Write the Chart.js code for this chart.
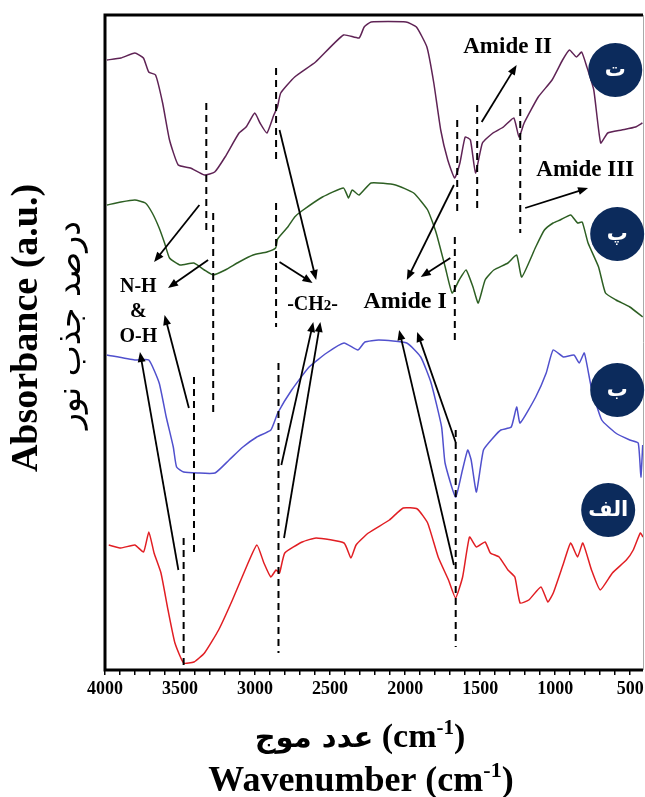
<!DOCTYPE html>
<html>
<head>
<meta charset="utf-8">
<script src="https://cdn.jsdelivr.net/npm/chart.js"></script>
<style>
  body { margin: 0; background: #fff; }
</style>
</head>
<body>
<canvas id="ftir" width="645" height="797"></canvas>
<script>
// FTIR spectra (wavenumber cm-1, absorbance a.u.)
const redWn = [3975, 3894, 3801, 3743, 3708, 3673, 3627, 3580, 3534, 3476, 3407, 3337, 3243, 3151, 3058, 2988, 2941, 2895, 2860, 2837, 2802, 2686, 2593, 2407, 2361, 2327, 2245, 2105, 2013, 1919, 1850, 1780, 1711, 1664, 1617, 1571, 1525, 1467, 1432, 1374, 1315, 1269, 1234, 1176, 1095, 1049, 1013, 944, 897, 851, 816, 758, 700, 619, 526, 480, 433, 415];
const redAbs = [12.5, 12.2, 12.5, 11.8, 13.8, 11.7, 9.7, 6, 2.7, 0.7, 0.8, 1.7, 4, 7, 10.3, 12.5, 10.7, 9.3, 10, 9.7, 11.7, 12.8, 13.2, 12.7, 11.2, 12.5, 13.7, 15, 16.2, 16.1, 14.7, 11.3, 9, 7.2, 9.3, 13.3, 12.3, 12.8, 11.7, 11.3, 10, 9.3, 6.7, 7, 8.3, 6.8, 7.7, 10.7, 12.7, 11.3, 12.7, 10, 8, 9.7, 11, 12, 13.7, 13.3];

const blueWn = [3987, 3801, 3708, 3639, 3592, 3545, 3523, 3476, 3383, 3267, 3173, 3081, 2988, 2895, 2849, 2756, 2640, 2523, 2407, 2315, 2268, 2175, 1989, 1896, 1827, 1757, 1734, 1664, 1618, 1583, 1560, 1525, 1478, 1409, 1362, 1293, 1257, 1234, 1130, 1060, 1014, 945, 875, 840, 806, 760, 690, 597, 503, 447, 429, 417];
const blueAbs = [31.5, 31, 31, 28.7, 25.3, 22.3, 20.3, 19.8, 19.7, 19.7, 21, 22.3, 23.3, 24, 25.7, 28, 30.3, 31.7, 32.7, 32, 32.8, 33, 32.7, 31.3, 28.7, 24.3, 20.7, 17.3, 20, 22, 21, 17.8, 22, 23.3, 24, 24.3, 26.3, 24.7, 27.3, 29.7, 32, 31.3, 31.5, 30.7, 31.7, 28.3, 25, 23.7, 23, 22.7, 19.3, 22.5];

const greenWn = [3987, 3894, 3801, 3731, 3685, 3639, 3603, 3570, 3500, 3408, 3338, 3280, 3199, 3107, 3013, 2921, 2863, 2850, 2782, 2736, 2689, 2551, 2411, 2377, 2353, 2307, 2227, 2064, 1943, 1850, 1793, 1733, 1687, 1640, 1594, 1548, 1513, 1467, 1409, 1315, 1257, 1223, 1130, 1072, 1014, 967, 897, 851, 820, 781, 711, 665, 595, 503, 417];
const greenAbs = [46.5, 46.8, 47, 46.7, 45.7, 44.2, 42.7, 41.2, 40.5, 40.7, 40, 39.5, 40, 40.8, 41.5, 41.8, 42.2, 43.1, 44.3, 45.3, 45.9, 47.3, 48.2, 47.2, 48, 47.5, 48.7, 48.5, 47.7, 46, 43.7, 40.3, 37.7, 39, 40, 38.3, 36.7, 39, 40, 40.7, 41.5, 39.3, 42.3, 44, 44.7, 45, 45.5, 44.7, 44.8, 42.7, 40.3, 37.7, 37, 36.3, 35.3];

const purpleWn = [3987, 3894, 3801, 3744, 3709, 3663, 3616, 3570, 3512, 3431, 3338, 3269, 3200, 3107, 3060, 3002, 2967, 2921, 2875, 2851, 2829, 2736, 2597, 2411, 2307, 2273, 2227, 1994, 1925, 1855, 1809, 1763, 1716, 1670, 1635, 1600, 1565, 1531, 1485, 1415, 1345, 1276, 1241, 1207, 1113, 1021, 951, 905, 859, 824, 789, 743, 697, 650, 557, 465, 419];
const purpleAbs = [61, 61.2, 61.7, 61.2, 59.8, 59.5, 56.7, 53, 50.5, 50.2, 49.5, 49.8, 51.3, 53.7, 54.3, 55.7, 54.7, 53.7, 55.5, 56.3, 57.7, 59.3, 60.8, 63.5, 63.2, 64.3, 64.8, 64.8, 64.3, 62.3, 58.7, 54, 51, 49.2, 50.7, 53.3, 53, 49.7, 52.7, 53.7, 54.3, 55.2, 53.3, 54.7, 57.3, 59, 61, 62, 61.3, 61.8, 60.3, 58, 52.7, 53.7, 54, 54.3, 54.7];

const sampleNames = ['الف', 'ب', 'پ', 'ت'];
const majorTicks = [4000, 3500, 3000, 2500, 2000, 1500, 1000, 500];

// annotation positions in data units (wavenumber, absorbance)
const dashLines = [
    [3325, 56.7, 43.7], [3279, 45.7, 25.7], [2860, 60.2, 50.7], [2860, 46.7, 34.3],
    [3407, 29.3, 11.7], [3476, 13.2, 0], [2844, 30.7, 1.7], [1653, 55, 45.7],
    [1520, 56.5, 45.8], [1233, 57.3, 43.7], [1669, 43.3, 33], [1663, 24, 2.3]
];
const arrows = [
    [3371, 46.5, 3673, 40.8], [3313, 41, 3580, 38.2], [3441, 26.2, 3603, 35.5], [3511, 10, 3767, 31.8],
    [2837, 54, 2593, 39], [2837, 40.8, 2617, 38.7], [2825, 20.5, 2612, 34.8], [2807, 13.2, 2565, 34.8],
    [1675, 48.5, 1989, 39], [1699, 41.2, 1896, 39.3], [1675, 10.5, 2040, 34], [1664, 22.8, 1920, 33.8],
    [1490, 54.8, 1257, 60.5], [1200, 46.2, 781, 48.2]
];
const labels = [
    { text: 'Amide II', x: 1317, y: 62.3, size: 23 },
    { text: 'Amide III', x: 800, y: 50, size: 23 },
    { text: 'Amide I', x: 2000, y: 36.8, size: 24 },
    { text: 'N-H', x: 3778, y: 38.3, size: 20 },
    { text: '&', x: 3778, y: 35.8, size: 20 },
    { text: 'O-H', x: 3778, y: 33.3, size: 20 }
];
const circles = [[647, 16], [587, 28], [587, 43.6], [600, 60]];

const serif = '"Liberation Serif", "Times New Roman", serif';
const persian = '"DejaVu Sans", sans-serif';

function toPoints(wn, ab) {
    return wn.map((w, i) => ({ x: w, y: ab[i] }));
}

function drawParts(ctx, parts, cx, baseline) {
    let total = 0;
    parts.forEach(p => { ctx.font = p.font; total += ctx.measureText(p.t).width; });
    let x = cx - total / 2;
    ctx.textAlign = 'left';
    ctx.textBaseline = 'alphabetic';
    parts.forEach(p => {
        ctx.font = p.font;
        ctx.fillText(p.t, x, baseline + (p.dy || 0));
        x += ctx.measureText(p.t).width;
    });
}

const decorations = {
    id: 'decorations',
    afterDraw(chart) {
        const ctx = chart.ctx;
        const xs = chart.scales.x, ys = chart.scales.y;
        const a = chart.chartArea;
        const px = v => xs.getPixelForValue(v);
        const py = v => ys.getPixelForValue(v);
        ctx.save();
        ctx.fillStyle = '#000';
        ctx.strokeStyle = '#000';

        // frame
        ctx.lineWidth = 3;
        ctx.beginPath();
        ctx.moveTo(a.right, a.top);
        ctx.lineTo(a.left, a.top);
        ctx.lineTo(a.left, a.bottom);
        ctx.lineTo(a.right, a.bottom);
        ctx.stroke();
        ctx.strokeStyle = '#aaa';
        ctx.lineWidth = 1;
        ctx.beginPath();
        ctx.moveTo(a.right + 0.5, a.top);
        ctx.lineTo(a.right + 0.5, a.bottom);
        ctx.stroke();

        // dashed guides
        ctx.strokeStyle = '#000';
        ctx.lineWidth = 2;
        ctx.setLineDash([7, 5]);
        dashLines.forEach(d => {
            ctx.beginPath();
            ctx.moveTo(px(d[0]), py(d[1]));
            ctx.lineTo(px(d[0]), py(d[2]));
            ctx.stroke();
        });
        ctx.setLineDash([]);

        // arrows
        ctx.lineWidth = 1.8;
        arrows.forEach(r => {
            const x1 = px(r[0]), y1 = py(r[1]), x2 = px(r[2]), y2 = py(r[3]);
            const ang = Math.atan2(y2 - y1, x2 - x1);
            ctx.beginPath();
            ctx.moveTo(x1, y1);
            ctx.lineTo(x2 - 6 * Math.cos(ang), y2 - 6 * Math.sin(ang));
            ctx.stroke();
            ctx.beginPath();
            ctx.moveTo(x2, y2);
            ctx.lineTo(x2 - 10 * Math.cos(ang) + 4 * Math.sin(ang), y2 - 10 * Math.sin(ang) - 4 * Math.cos(ang));
            ctx.lineTo(x2 - 10 * Math.cos(ang) - 4 * Math.sin(ang), y2 - 10 * Math.sin(ang) + 4 * Math.cos(ang));
            ctx.closePath();
            ctx.fill();
        });

        // band labels
        ctx.textAlign = 'center';
        ctx.textBaseline = 'middle';
        labels.forEach(l => {
            ctx.font = 'bold ' + l.size + 'px ' + serif;
            ctx.fillText(l.text, px(l.x), py(l.y));
        });
        drawParts(ctx, [
            { t: '-CH', font: 'bold 20px ' + serif },
            { t: '2', font: 'bold 15px ' + serif },
            { t: '-', font: 'bold 20px ' + serif }
        ], px(2617), py(36.7) + 7);

        // sample badges
        circles.forEach((c, i) => {
            ctx.fillStyle = '#0c2b5c';
            ctx.beginPath();
            ctx.arc(px(c[0]), py(c[1]), 27, 0, Math.PI * 2);
            ctx.fill();
            ctx.fillStyle = '#fff';
            ctx.font = 'bold 21px ' + persian;
            ctx.textAlign = 'center';
            ctx.textBaseline = 'middle';
            ctx.fillText(sampleNames[i], px(c[0]), py(c[1]) + 1);
        });

        // axis titles
        ctx.fillStyle = '#000';
        drawParts(ctx, [
            { t: 'عدد موج', font: 'bold 29px ' + persian },
            { t: ' (cm', font: 'bold 34px ' + serif },
            { t: '-1', font: 'bold 21px ' + serif, dy: -13 },
            { t: ')', font: 'bold 34px ' + serif }
        ], 360, 747);
        drawParts(ctx, [
            { t: 'Wavenumber (cm', font: 'bold 36px ' + serif },
            { t: '-1', font: 'bold 22px ' + serif, dy: -14 },
            { t: ')', font: 'bold 36px ' + serif }
        ], 361, 791);

        ctx.translate(27, 328);
        ctx.rotate(-Math.PI / 2);
        ctx.textAlign = 'center';
        ctx.textBaseline = 'middle';
        ctx.font = 'bold 38px ' + serif;
        ctx.fillText('Absorbance (a.u.)', 0, 0);
        // persian line sized to span about the same length as the original
        ctx.font = '20px ' + persian;
        const fa = 'درصد جذب نور';
        const size = 20 * 208 / ctx.measureText(fa).width;
        ctx.font = size.toFixed(1) + 'px ' + persian;
        ctx.fillText(fa, 3, 44);
        ctx.restore();
    }
};

const data = {
    datasets: [
        { label: 'الف', data: toPoints(redWn, redAbs), borderColor: 'rgb(225, 30, 35)' },
        { label: 'ب', data: toPoints(blueWn, blueAbs), borderColor: 'rgb(80, 80, 205)' },
        { label: 'پ', data: toPoints(greenWn, greenAbs), borderColor: 'rgb(45, 95, 35)' },
        { label: 'ت', data: toPoints(purpleWn, purpleAbs), borderColor: 'rgb(95, 35, 85)' }
    ]
};

const config = {
    type: 'line',
    data: data,
    options: {
        responsive: false,
        animation: false,
        events: [],
        elements: {
            point: { radius: 0 },
            line: { borderWidth: 1.5, tension: 0.15 }
        },
        layout: {
            padding: { left: 105, right: 2, top: 15, bottom: 0 }
        },
        plugins: {
            legend: { display: false },
            tooltip: { enabled: false }
        },
        scales: {
            x: {
                type: 'linear',
                reverse: true,
                min: 415,
                max: 4000,
                border: { display: false },
                grid: { drawOnChartArea: false, tickLength: 5, color: '#000', lineWidth: 1.5 },
                ticks: {
                    autoSkip: false,
                    maxRotation: 0,
                    padding: 4,
                    color: '#000',
                    font: { family: serif, size: 18, weight: 'bold' },
                    callback: v => (majorTicks.includes(v) ? String(v) : '')
                },
                afterBuildTicks: axis => {
                    // minor marks every 100 between the labelled ones
                    const t = [];
                    for (let v = majorTicks[0]; v >= majorTicks[majorTicks.length - 1]; v -= 100) t.push({ value: v });
                    axis.ticks = t;
                },
                afterFit: axis => {
                    axis.height = 127;
                    axis.paddingLeft = 0;
                    axis.paddingRight = 0;
                }
            },
            y: {
                display: false,
                min: 0,
                max: 65.5
            }
        }
    },
    plugins: [decorations]
};

const ftirChart = new Chart(document.getElementById('ftir'), config);
</script>
</body>
</html>
